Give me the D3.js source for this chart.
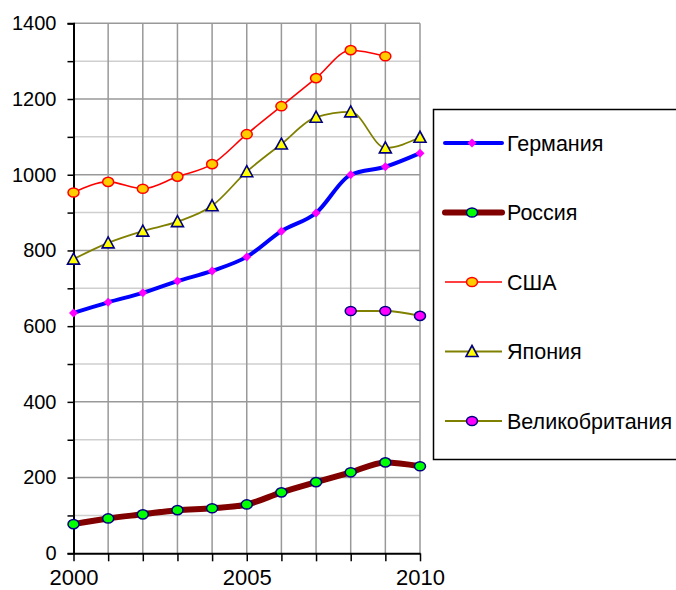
<!DOCTYPE html>
<html>
<head>
<meta charset="utf-8">
<script src="https://cdn.jsdelivr.net/npm/d3@7"></script>
<style>
  body { margin: 0; background: #fff; }
  svg { display: block; font-family: "Liberation Sans", Arial, sans-serif; }
</style>
</head>
<body>
<div id="chart"></div>
<script>
const years = [2000, 2001, 2002, 2003, 2004, 2005, 2006, 2007, 2008, 2009, 2010];
const germany = [635, 663, 688, 719, 746, 783, 851, 899, 1000, 1021, 1057];
const russia = [77, 92, 103, 114, 119, 129, 161, 188, 214, 240, 230];
const usa = [953, 981, 963, 995, 1028, 1107, 1181, 1255, 1329, 1313, null];
const japan = [777, 820, 851, 876, 918, 1008, 1081, 1152, 1166, 1071, 1099];
const uk = [null, null, null, null, null, null, null, null, 640, 640, 627];
const yTicks = [0, 200, 400, 600, 800, 1000, 1200, 1400];
const xLabels = [2000, 2005, 2010];

const width = 676, height = 590;
const margin = { top: 23.3, right: 256, bottom: 36.7, left: 73.5 };

const svg = d3.select("#chart").append("svg")
    .attr("width", width)
    .attr("height", height);

const x = d3.scaleLinear()
    .domain([2000, 2010])
    .range([margin.left, width - margin.right]);

const y = d3.scaleLinear()
    .domain([0, 1400])
    .range([height - margin.bottom, margin.top]);

// grid: minor horizontal lines first (every 100), then major
svg.append("g")
    .selectAll("line")
    .data(d3.range(100, 1400, 200))
    .join("line")
    .attr("x1", x(2000)).attr("x2", x(2010))
    .attr("y1", d => y(d)).attr("y2", d => y(d))
    .attr("stroke", "#cfcfcf")
    .attr("stroke-width", 1.5);

svg.append("g")
    .selectAll("line")
    .data(yTicks.slice(1))
    .join("line")
    .attr("x1", x(2000)).attr("x2", x(2010))
    .attr("y1", d => y(d)).attr("y2", d => y(d))
    .attr("stroke", "#999")
    .attr("stroke-width", 1.5);

svg.append("g")
    .selectAll("line")
    .data(years.slice(1))
    .join("line")
    .attr("x1", d => x(d)).attr("x2", d => x(d))
    .attr("y1", y(0)).attr("y2", y(1400))
    .attr("stroke", "#999")
    .attr("stroke-width", 1.5);

// Y axis
const yAxis = svg.append("g")
    .attr("transform", `translate(${margin.left},0)`)
    .call(d3.axisLeft(y)
        .tickValues(d3.range(0, 1401, 100))
        .tickSize(6)
        .tickPadding(11)
        .tickFormat(d => d % 200 === 0 ? d : ""));
yAxis.select(".domain").attr("stroke", "#000").attr("stroke-width", 2);
yAxis.selectAll(".tick line").attr("stroke", "#000").attr("stroke-width", 1.5);
yAxis.selectAll("text")
    .attr("font-size", 20)
    .attr("font-family", "Liberation Sans, Arial, sans-serif")
    .attr("fill", "#000");

// X axis
const xAxis = svg.append("g")
    .attr("transform", `translate(0,${y(0)})`)
    .call(d3.axisBottom(x)
        .tickValues(years)
        .tickSize(8)
        .tickSizeOuter(0)
        .tickPadding(8)
        .tickFormat(d => xLabels.includes(d) ? d : ""));
xAxis.select(".domain").attr("stroke", "#000").attr("stroke-width", 2);
xAxis.selectAll(".tick line").attr("stroke", "#000").attr("stroke-width", 1.5);
xAxis.selectAll("text")
    .attr("font-size", 22)
    .attr("font-family", "Liberation Sans, Arial, sans-serif")
    .attr("fill", "#000");

const line = d3.line()
    .defined(d => d[1] != null)
    .x(d => x(d[0]))
    .y(d => y(d[1]))
    .curve(d3.curveMonotoneX);

const series = [
  { name: "Германия", values: germany, stroke: "#0000ff", width: 4, marker: "diamond", fill: "#ff00ff", edge: "none" },
  { name: "Россия", values: russia, stroke: "#800000", width: 6, marker: "circle", fill: "#00ff00", edge: "#000080" },
  { name: "США", values: usa, stroke: "#ff0000", width: 1.6, marker: "circle", fill: "#ffcc00", edge: "#ff0000" },
  { name: "Япония", values: japan, stroke: "#808000", width: 1.8, marker: "triangle", fill: "#ffff00", edge: "#000080" },
  { name: "Великобритания", values: uk, stroke: "#808000", width: 1.8, marker: "circle", fill: "#ff00ff", edge: "#000080" }
];

function drawMarker(g, s, cx, cy) {
  if (s.marker === "circle") {
    g.append("ellipse")
      .attr("cx", cx).attr("cy", cy)
      .attr("rx", 5.5).attr("ry", 4.6)
      .attr("fill", s.fill)
      .attr("stroke", s.edge)
      .attr("stroke-width", 1.5);
  } else if (s.marker === "diamond") {
    g.append("path")
      .attr("d", `M${cx},${cy - 4.5}L${cx + 4.5},${cy}L${cx},${cy + 4.5}L${cx - 4.5},${cy}Z`)
      .attr("fill", s.fill);
  } else {
    g.append("path")
      .attr("d", `M${cx},${cy - 6}L${cx + 6},${cy + 5}L${cx - 6},${cy + 5}Z`)
      .attr("fill", s.fill)
      .attr("stroke", s.edge)
      .attr("stroke-width", 1.6)
      .attr("stroke-linejoin", "miter");
  }
}

for (let s of series) {
  let pts = years.map((yr, i) => [yr, s.values[i]]);
  let g = svg.append("g").attr("class", "series");
  g.append("path")
    .datum(pts)
    .attr("fill", "none")
    .attr("stroke", s.stroke)
    .attr("stroke-width", s.width)
    .attr("stroke-linejoin", "round")
    .attr("d", line);
  for (let p of pts.filter(p => p[1] != null)) {
    drawMarker(g, s, x(p[0]), y(p[1]));
  }
}

// legend
const legend = svg.append("g");
legend.append("rect")
    .attr("x", 433.5).attr("y", 109.5)
    .attr("width", 260).attr("height", 350)
    .attr("fill", "#fff")
    .attr("stroke", "#000")
    .attr("stroke-width", 1.5);

const legendY = d3.scalePoint()
    .domain(series.map(s => s.name))
    .range([143, 421]);

for (let s of series) {
  let ly = legendY(s.name);
  let g = legend.append("g");
  g.append("line")
    .attr("x1", 445).attr("x2", 502)
    .attr("y1", ly).attr("y2", ly)
    .attr("stroke", s.stroke)
    .attr("stroke-width", s.width)
    .attr("stroke-linecap", s.width > 3 ? "round" : "butt");
  drawMarker(g, s, 472, ly);
  g.append("text")
    .attr("x", 507)
    .attr("y", ly)
    .attr("dy", "0.36em")
    .attr("font-size", 21.5)
    .attr("fill", "#000")
    .text(s.name);
}
</script>
</body>
</html>
